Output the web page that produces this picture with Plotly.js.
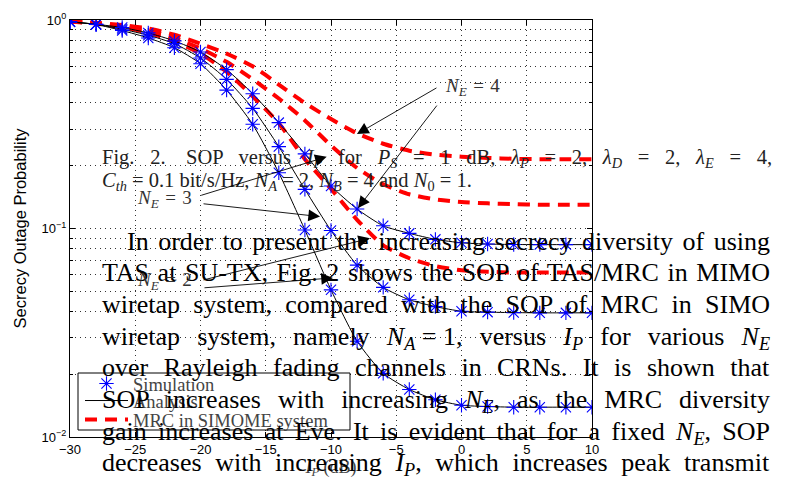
<!DOCTYPE html>
<html><head><meta charset="utf-8">
<script src="https://cdn.plot.ly/plotly-3.0.1.min.js"></script>
<style>html,body{margin:0;padding:0;background:#fff;}#chart{width:796px;height:483px;}</style>
</head><body><div id="chart"></div>
<script>
// ---- data ----
const ipDb = [-30,-28,-26,-24,-22,-20,-18,-16,-14,-12,-10,-8,-6,-4,-2,0,2,4,6,8,10];
const tasNe2 = [0.980,0.951,0.890,0.820,0.736,0.617,0.461,0.316,0.185,0.0984,0.0508,0.0288,0.0202,0.0169,0.0151,0.0142,0.0140,0.0139,0.0139,0.0139,0.0139];
const tasNe3 = [0.980,0.954,0.903,0.845,0.770,0.657,0.519,0.377,0.247,0.154,0.0978,0.0667,0.0522,0.0455,0.0422,0.0401,0.0397,0.0395,0.0394,0.0394,0.0394];
const tasNe4 = [0.980,0.954,0.920,0.867,0.794,0.702,0.578,0.443,0.322,0.228,0.160,0.124,0.103,0.0948,0.0887,0.0854,0.0842,0.0838,0.0837,0.0837,0.0837];
const mrcNe2 = [0.985,0.960,0.925,0.870,0.790,0.690,0.565,0.430,0.320,0.215,0.155,0.110,0.083,0.072,0.066,0.063,0.062,0.0615,0.0615,0.0615,0.0615];
const mrcNe3 = [0.985,0.965,0.935,0.890,0.820,0.730,0.630,0.520,0.420,0.330,0.250,0.195,0.163,0.146,0.138,0.134,0.132,0.131,0.130,0.130,0.130];
const mrcNe4 = [0.985,0.970,0.945,0.910,0.850,0.770,0.690,0.600,0.490,0.400,0.335,0.286,0.255,0.236,0.226,0.221,0.218,0.216,0.215,0.215,0.215];
const yTickVals = [0.01, 0.1, 1];
const yTickText = ['10<sup>\u22122</sup>', '10<sup>\u22121</sup>', '10<sup>0</sup>'];
const yMinorVals = [0.02,0.03,0.04,0.05,0.06,0.07,0.08,0.09,0.2,0.3,0.4,0.5,0.6,0.7,0.8,0.9];
const legendNames = ['Simulation', 'Analysis', 'MRC in SIMOME system'];

// ---- traces ----
const red = '#ff0000', blue = '#0000ff';
const traces = [];
[mrcNe2, mrcNe3, mrcNe4].forEach((ys, i) => traces.push({
  x: ipDb, y: ys, type: 'scatter', mode: 'lines', name: legendNames[2],
  legend: 'legend3', showlegend: i === 0,
  line: {color: red, width: 4, dash: '12px,8px', shape: 'spline', smoothing: 0.6}
}));
[tasNe2, tasNe3, tasNe4].forEach((ys, i) => traces.push({
  x: ipDb, y: ys, type: 'scatter', mode: 'lines', name: legendNames[1],
  legend: 'legend2', showlegend: i === 0,
  line: {color: '#000', width: 1, shape: 'spline', smoothing: 0.6}
}));
[tasNe2, tasNe3, tasNe4].forEach((ys, i) => traces.push({
  x: ipDb, y: ys, type: 'scatter', mode: 'markers', name: legendNames[0],
  legend: 'legend', showlegend: i === 0,
  marker: {symbol: 'asterisk-open', size: 12, color: blue, line: {color: blue, width: 1.1}}
}));

// ---- geometry helpers (pixel -> paper) ----
const L = 70, R = 592, T = 20, B = 437;
const PX = px => (px - L) / (R - L);
const PY = py => (B - py) / (B - T);

const serif = 'Liberation Serif, Times New Roman, serif';
const sans = 'Liberation Sans, Arial, sans-serif';
const sub = s => '<sub><i>' + s + '</i></sub>';
const th = '\u2005=\u2005';

// text lines: [html, leftPx, rightPx (justify target or null), baselinePx, size, color]
const textLines = [
  ['Fig. 2.\u2002\u2002SOP versus <i>I</i>' + sub('P') + ' for <i>P</i>' + sub('S') + ' = 1 dB, <i>\u03bb</i>' + sub('P') + ' = 2, <i>\u03bb</i>' + sub('D') + ' = 2, <i>\u03bb</i>' + sub('E') + ' = 4,', 100, 770, 163.3, 20.5, '#222'],
  ['<i>C</i>' + sub('th') + th + '0.1 bit/s/Hz, <i>N</i>' + sub('A') + th + '2, <i>N</i>' + sub('B') + th + '4 and <i>N</i><sub>0</sub>' + th + '1.', 100, null, 186, 20.5, '#222'],
  ['In order to present the increasing secrecy diversity of using', 125, 768, 248.7, 26, '#000'],
  ['TAS at SU-TX, Fig. 2 shows the SOP of TAS/MRC in MIMO', 100, 768, 280.4, 26, '#000'],
  ['wiretap system, compared with the SOP of MRC in SIMO', 100, 768, 312.1, 26, '#000'],
  ['wiretap system, namely <i>N</i>' + sub('A') + th + '1, versus <i>I</i>' + sub('P') + ' for various <i>N</i>' + sub('E'), 100, 768, 343.8, 26, '#000'],
  ['over Rayleigh fading channels in CRNs. It is shown that', 100, 768, 375.5, 26, '#000'],
  ['SOP increases with increasing <i>N</i>' + sub('E') + ', as the MRC diversity', 100, 768, 407.2, 26, '#000'],
  ['gain increases at Eve. It is evident that for a fixed <i>N</i>' + sub('E') + ', SOP', 100, 768, 438.9, 26, '#000'],
  ['decreases with increasing <i>I</i>' + sub('P') + ', which increases peak transmit', 100, 768, 470.6, 26, '#000']
];

const annotations = textLines.map(t => ({
  xref: 'paper', yref: 'paper', x: PX(t[1]), y: PY(t[3] - 0.891 * t[4] - 1),
  xanchor: 'left', yanchor: 'top', align: 'left', showarrow: false,
  text: t[0], font: {family: serif, size: t[4], color: t[5]}
}));

// N_E labels
const neLabels = [['4', 443, 87], ['3', 135, 199], ['2', 135, 281]];
neLabels.forEach(l => annotations.push({
  xref: 'paper', yref: 'paper', x: PX(l[1]), y: PY(l[2]), xanchor: 'left', yanchor: 'middle',
  showarrow: false, text: '<i>N</i>' + sub('E') + '\u2004=\u2004' + l[0],
  font: {family: serif, size: 19, color: '#333'}
}));
// arrows: tip in data coords (dB, log10), tail offset in px
const arrows = [
  [-8.01, -0.547, 81, -47], [-7.93, -0.902, 80, -104],
  [-10.33, -0.656, -127, 39], [-10.84, -0.943, -118, -13],
  [-7.01, -1.047, -168, 42], [-9.85, -1.237, -130, 10]
];
arrows.forEach(a => annotations.push({
  xref: 'x', yref: 'y', x: a[0], y: a[1], ax: a[2], ay: a[3], text: '',
  showarrow: true, arrowhead: 2, arrowsize: 2.6, arrowwidth: 0.9, arrowcolor: '#000', standoff: 0
}));

const gridCol = '#333', gridDash = '1px,4px';
const axisCommon = {
  showline: true, linecolor: '#000', linewidth: 1, mirror: 'allticks',
  ticks: 'inside', ticklen: 5, tickcolor: '#000', tickwidth: 1,
  showgrid: true, gridcolor: gridCol, griddash: gridDash, gridwidth: 1, zeroline: false,
  tickfont: {family: sans, size: 13, color: '#000'}
};

const legendCommon = {
  xanchor: 'left', yanchor: 'middle', bgcolor: 'rgba(0,0,0,0)', borderwidth: 0,
  font: {family: serif, size: 18.5, color: '#444'}, itemwidth: 43
};

const layout = {
  width: 796, height: 483,
  margin: {l: L, r: 796 - R, t: T, b: 483 - B, pad: 0},
  paper_bgcolor: '#fff', plot_bgcolor: '#fff',
  showlegend: true,
  xaxis: Object.assign({}, axisCommon, {
    range: [-30, 10], dtick: 5, tick0: -30,
    title: {text: '<i>I</i>' + sub('P') + ' (dB)', font: {family: serif, size: 18, color: '#444'}, standoff: 4}
  }),
  yaxis: Object.assign({}, axisCommon, {
    type: 'log', range: [-2, 0], tickmode: 'array', tickvals: yTickVals, ticktext: yTickText,
    minor: {tickmode: 'array', tickvals: yMinorVals, ticks: 'inside', ticklen: 3, tickcolor: '#000',
            showgrid: true, gridcolor: gridCol, griddash: gridDash, gridwidth: 1},
    title: {text: 'Secrecy Outage Probability', font: {family: sans, size: 16.5, color: '#000'}, standoff: 10}
  }),
  legend: Object.assign({}, legendCommon, {x: PX(80), y: PY(384)}),
  legend2: Object.assign({}, legendCommon, {x: PX(80), y: PY(401)}),
  legend3: Object.assign({}, legendCommon, {x: PX(80), y: PY(420)}),
  shapes: [{
    type: 'rect', xref: 'paper', yref: 'paper', x0: PX(78), x1: PX(350), y0: PY(430), y1: PY(373),
    fillcolor: '#fff', line: {color: '#000', width: 1}, layer: 'above'
  }],
  annotations: annotations
};

Plotly.newPlot('chart', traces, layout, {staticPlot: true, displayModeBar: false}).then(gd => {
  textLines.forEach((t, i) => {
    if (!t[2]) return;
    const g = gd.querySelector('.annotation[data-index="' + i + '"]');
    const el = g && g.querySelector('text');
    if (!el) return;
    const w = el.getBBox().width;
    const n = (el.textContent.match(/ /g) || []).length;
    if (n > 0) el.style.wordSpacing = ((t[2] - t[1] - w) / n).toFixed(2) + 'px';
  });
});
</script></body></html>
